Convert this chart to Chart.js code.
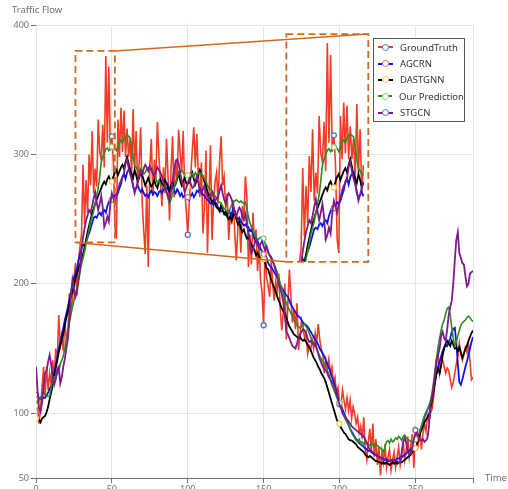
<!DOCTYPE html>
<html>
<head>
<meta charset="utf-8">
<script src="https://cdn.jsdelivr.net/npm/chart.js@4.4.0/dist/chart.umd.min.js"></script>
<style>
  html, body { margin: 0; padding: 0; background: #fff; }
  #wrap { position: relative; width: 508px; height: 489px; }
  #legend {
    position: absolute; left: 373px; top: 38px; width: 92px; height: 84px;
    box-sizing: border-box; border: 1px solid #555; background: #fff;
    font: 9.5px 'Noto Sans', sans-serif; color: #333;
  }
  .item { display: flex; align-items: center; height: 16.4px; white-space: nowrap; }
  .icon { position: relative; width: 15px; height: 10px; margin-left: 4px; margin-right: 7px; }
  .icon .ln { position: absolute; left: 0; right: 0; top: 4px; height: 2px; }
  .icon .dot {
    position: absolute; left: 4px; top: 1.5px; width: 5px; height: 5px;
    border: 1.5px solid; border-radius: 50%; background: #fff;
  }
</style>
</head>
<body>
<div id="wrap">
  <canvas id="myChart" width="508" height="489"></canvas>
  <div id="legend"></div>
</div>
<script>
const seriesNames = ['GroundTruth', 'AGCRN', 'DASTGNN', 'Our Prediction', 'STGCN'];

const xTicks = [0, 50, 100, 150, 200, 250, 288];
const yTicks = [50, 100, 200, 300, 400];

// values, one per time step (0..288)
const groundTruth = [
  114, 106, 92, 104, 120, 136, 113, 136, 118, 131,
  122, 141, 127, 150, 139, 176, 153, 160, 148, 171,
  158, 162, 193, 180, 186, 202, 216, 191, 218, 229,
  238, 292, 246, 280, 255, 300, 276, 318, 270, 289,
  275, 327, 302, 296, 323, 290, 376, 309, 368, 303,
  314, 294, 244, 235, 327, 298, 336, 302, 334, 298,
  320, 298, 312, 285, 335, 289, 318, 276, 294, 321,
  262, 241, 223, 276, 213, 290, 312, 268, 296, 281,
  325, 300, 278, 260, 290, 270, 312, 284, 249, 288,
  314, 267, 296, 280, 319, 301, 286, 318, 272, 257,
  238, 262, 284, 303, 321, 290, 316, 283, 267, 294,
  239, 258, 303, 224, 268, 307, 234, 262, 279, 286,
  262, 295, 314, 276, 283, 258, 270, 234, 255, 246,
  265, 239, 218, 242, 252, 224, 260, 248, 283, 267,
  213, 238, 215, 255, 232, 242, 210, 229, 203, 193,
  168, 229, 205, 198, 190, 218, 200, 187, 202, 195,
  208, 180, 164, 178, 200, 157, 185, 211, 190, 170,
  180, 165, 185, 149, 160, 172, 167, 158, 162, 146,
  152, 149, 157, 150, 162, 155, 169, 157, 150, 146,
  131, 141, 135, 142, 131, 136, 124, 128, 115, 120,
  107, 106, 118, 110, 103, 112, 102, 110, 96, 105,
  100, 92, 97, 85, 90, 80, 97, 72, 64, 78,
  88, 70, 92, 66, 80, 60, 74, 52, 70, 62,
  76, 58, 66, 72, 56, 64, 70, 58, 66, 74,
  60, 68, 78, 64, 72, 82, 66, 75, 84, 58,
  87, 82, 76, 88, 72, 84, 92, 86, 98, 94,
  100, 103, 112, 124, 138, 146, 131, 139, 141, 136,
  131, 135, 133, 126, 120, 124, 131, 138, 144, 154,
  146, 141, 146, 151, 147, 154, 140, 126, 128
];

const agcrn = [
  111, 113, 112, 111, 111, 112, 112, 114, 116, 119,
  121, 126, 132, 137, 143, 150, 155, 161, 166, 172,
  177, 182, 188, 193, 200, 205, 208, 212, 218, 223,
  227, 231, 229, 233, 236, 239, 243, 247, 251, 252,
  251, 254, 255, 253, 256, 257, 255, 260, 263, 266,
  265, 267, 269, 268, 270, 274, 277, 283, 285, 281,
  286, 288, 289, 283, 275, 272, 274, 276, 273, 271,
  273, 270, 268, 269, 267, 270, 272, 269, 271, 270,
  268, 271, 272, 270, 273, 275, 272, 276, 274, 273,
  275, 272, 270, 273, 271, 268, 270, 267, 268, 266,
  267, 265, 268, 270, 267, 269, 272, 271, 274, 272,
  269, 268, 266, 265, 264, 262, 263, 261, 263, 262,
  259, 258, 256, 257, 254, 253, 253, 256, 255, 253,
  259, 256, 252, 250, 251, 248, 247, 245, 246, 244,
  244, 241, 242, 239, 235, 236, 233, 230, 227, 225,
  223, 222, 220, 216, 214, 213, 211, 209, 207, 205,
  202, 199, 197, 195, 193, 191, 190, 187, 184, 182,
  180, 178, 176, 175, 174, 172, 170, 169, 168, 167,
  165, 163, 161, 159, 157, 155, 153, 150, 148, 146,
  144, 141, 138, 135, 132, 128, 125, 121, 117, 113,
  108, 106, 103, 100, 97, 94, 91, 88, 86, 84,
  82, 80, 79, 77, 76, 75, 74, 73, 72, 71,
  71, 70, 69, 68, 68, 67, 66, 66, 65, 65,
  64, 64, 63, 63, 64, 63, 64, 64, 65, 65,
  66, 66, 67, 68, 69, 70, 71, 72, 73, 74,
  76, 78, 81, 85, 89, 93, 97, 100, 103, 105,
  108, 113, 119, 126, 131, 136, 140, 144, 148, 151,
  153, 152, 155, 158, 163, 165, 166, 155, 138, 124,
  122, 126, 131, 136, 140, 145, 150, 155, 159
];

const dastgnn = [
  96, 95, 95, 93, 96, 97, 98, 101, 105, 111,
  116, 122, 129, 135, 141, 147, 152, 157, 162, 168,
  174, 179, 185, 190, 194, 198, 204, 208, 212, 215,
  218, 223, 228, 234, 240, 245, 250, 255, 258, 262,
  265, 268, 271, 274, 277, 279, 277, 281, 283, 280,
  279, 283, 286, 288, 284, 287, 290, 292, 289, 294,
  298, 293, 287, 285, 282, 288, 284, 279, 282, 286,
  284, 280, 276, 279, 282, 278, 275, 277, 280, 276,
  274, 279, 281, 277, 276, 280, 278, 274, 271, 276,
  279, 275, 277, 281, 285, 280, 276, 279, 282, 278,
  275, 279, 283, 286, 281, 277, 280, 284, 288, 285,
  283, 279, 276, 271, 268, 266, 263, 265, 262, 259,
  258, 256, 261, 257, 254, 256, 252, 250, 252, 249,
  253, 255, 250, 246, 248, 243, 240, 242, 238, 235,
  236, 233, 230, 228, 226, 222, 224, 221, 220, 219,
  219, 216, 212, 211, 207, 203, 200, 197, 194, 190,
  187, 184, 181, 179, 177, 174, 170, 167, 165, 163,
  161, 160, 159, 158, 159, 157, 156, 157, 155, 153,
  151, 149, 146, 143, 141, 139, 136, 134, 131, 129,
  127, 124, 120, 116, 112, 108, 104, 100, 96, 93,
  92, 89, 87, 85, 84, 82, 80, 79, 79, 78,
  77, 76, 74, 73, 72, 71, 70, 68, 67, 66,
  67, 66, 65, 64, 63, 63, 62, 62, 61, 62,
  61, 62, 61, 60, 61, 62, 61, 62, 61, 62,
  62, 62, 63, 64, 65, 66, 67, 68, 70, 71,
  73, 76, 80, 84, 87, 90, 93, 95, 97, 99,
  104, 110, 117, 124, 131, 134, 131, 137, 145, 150,
  154, 156, 154, 152, 156, 153, 150, 151, 148, 151,
  147, 143, 146, 150, 152, 156, 159, 162, 164
];

const ourPrediction = [
  106, 108, 110, 112, 114, 116, 115, 114, 113, 113,
  120, 126, 128, 129, 130, 133, 138, 141, 144, 150,
  157, 163, 170, 176, 182, 187, 192, 197, 203, 210,
  215, 220, 225, 231, 236, 242, 248, 252, 256, 262,
  268, 274, 283, 294, 298, 301, 304, 305, 303, 305,
  306, 307, 305, 303, 306, 309, 311, 309, 312, 314,
  315, 314, 313, 306, 298, 292, 290, 288, 287, 289,
  287, 285, 286, 289, 290, 288, 289, 287, 284, 281,
  278, 280, 277, 276, 274, 275, 271, 266, 262, 265,
  270, 275, 278, 282, 285, 287, 288, 286, 284, 283,
  284, 283, 284, 285, 283, 286, 284, 285, 286, 285,
  283, 281, 279, 276, 274, 273, 272, 270, 268, 266,
  264, 263, 262, 260, 258, 257, 256, 255, 258, 261,
  263, 264, 265, 264, 263, 264, 263, 262, 263, 258,
  252, 247, 244, 241, 238, 236, 234, 235, 236, 235,
  235, 231, 227, 224, 222, 219, 217, 215, 212, 209,
  205, 200, 196, 192, 188, 185, 182, 180, 177, 175,
  172, 170, 168, 167, 166, 167, 168, 169, 167, 165,
  162, 159, 156, 154, 152, 150, 147, 144, 142, 140,
  139, 136, 133, 130, 126, 122, 119, 116, 113, 110,
  108, 105, 101, 98, 95, 93, 91, 88, 85, 83,
  81, 79, 78, 80, 77, 78, 76, 78, 77, 76,
  75, 77, 76, 74, 76, 75, 74, 73, 72, 70,
  74, 78, 79, 77, 80, 78, 79, 81, 80, 82,
  81, 79, 82, 83, 81, 80, 79, 78, 79, 81,
  80, 82, 83, 86, 90, 94, 98, 101, 103, 106,
  110, 116, 124, 134, 143, 151, 158, 164, 169, 172,
  177, 181, 182, 176, 166, 158, 152, 155, 160, 164,
  168, 170, 171, 172, 174, 175, 174, 172, 171
];

const stgcn = [
  136, 118, 104, 101, 108, 122, 131, 133, 140, 145,
  138, 128, 122, 126, 134, 136, 123, 128, 136, 142,
  150, 157, 172, 190, 203, 196, 190, 194, 202, 210,
  228, 236, 243, 249, 253, 257, 255, 260, 266, 271,
  263, 257, 262, 268, 259, 244, 247, 252, 248, 262,
  270, 266, 262, 268, 272, 277, 280, 282, 285, 293,
  296, 290, 285, 281, 276, 270, 274, 279, 283, 287,
  285, 289, 292, 290, 287, 291, 288, 285, 283, 287,
  290, 288, 286, 283, 279, 275, 271, 268, 265, 272,
  280, 288, 294, 296, 293, 286, 280, 276, 271, 274,
  278, 281, 277, 274, 275, 279, 283, 278, 273, 270,
  273, 276, 271, 268, 266, 269, 271, 267, 264, 266,
  268, 272, 276, 270, 265, 262, 267, 270, 268, 265,
  260, 255, 252, 256, 259, 257, 252, 250, 254, 246,
  240, 232, 224, 226, 231, 234, 230, 228, 231, 233,
  229, 226, 229, 225, 222, 221, 218, 214, 210, 205,
  200, 196, 192, 186, 175, 163, 161, 158, 155, 152,
  151, 150, 154, 158, 161, 163, 165, 164, 162, 158,
  155, 156, 154, 153, 154, 150, 146, 142, 139, 136,
  134, 133, 131, 128, 126, 124, 122, 119, 115, 111,
  107, 104, 100, 98, 97, 95, 94, 92, 90, 89,
  88, 87, 86, 85, 84, 83, 82, 80, 77, 74,
  72, 71, 70, 69, 68, 67, 66, 66, 65, 64,
  64, 65, 64, 63, 64, 64, 63, 64, 63, 62,
  62, 70, 78, 81, 77, 70, 68, 69, 74, 80,
  84, 85, 82, 79, 79, 80, 78, 79, 81, 90,
  107, 112, 120, 130, 141, 145, 150, 160, 163, 158,
  156, 165, 176, 182, 187, 200, 218, 234, 240, 224,
  220, 216, 215, 206, 198, 200, 208, 209, 210
];

const allSeries = [groundTruth, agcrn, dastgnn, ourPrediction, stgcn];

// styles
const lineColors = ['#f23c28', '#0a14f0', '#000000', '#2e8b1e', '#7d1a8c'];
const markerColors = ['#5470c6', '#ee6666', '#fac858', '#91cc75', '#5470c6'];
const lineWidths = [1.6, 1.8, 1.8, 1.6, 1.8];
const showMarkers = [true, true, true, true, false];
const markerEvery = 50;

// zoom window: small box (source) and big box (where it is drawn), in data units
const sourceBox = { x: [26, 52], y: [232, 380] };
const targetBox = { x: [165, 219], y: [217, 393] };
const insetView = { x: [21, 71], y: [229, 382] };
const insetSlice = [28, 68];
const boxColor = '#d2691e';
const axisFont = { family: "'Noto Sans', sans-serif", size: 9 };

function toPoints(arr) {
    return arr.map((v, i) => ({ x: i, y: v }));
}

// hidden axis range so that insetView lands exactly on targetBox
function insetRange(view, box, lo, hi) {
    const k = (view[1] - view[0]) / (box[1] - box[0]);
    return { min: view[0] + (lo - box[0]) * k, max: view[0] + (hi - box[0]) * k };
}

function makeDataset(i, inset) {
    let data = toPoints(allSeries[i]);
    if (inset) data = data.filter(p => p.x >= insetSlice[0] && p.x <= insetSlice[1]);
    return {
        label: seriesNames[i],
        data: data,
        borderColor: lineColors[i],
        borderWidth: lineWidths[i],
        backgroundColor: '#fff',
        pointBackgroundColor: '#fff',
        pointBorderColor: markerColors[i],
        pointBorderWidth: 1.3,
        pointRadius: ctx => (showMarkers[i] && ctx.raw && ctx.raw.x % markerEvery === 0) ? 2.5 : 0,
        tension: 0,
        fill: false,
        order: 10 - i,
        xAxisID: inset ? 'x2' : 'x',
        yAxisID: inset ? 'y2' : 'y',
        isInset: inset
    };
}

const datasets = [];
for (let i = 0; i < allSeries.length; i++) datasets.push(makeDataset(i, false));
for (let i = 0; i < allSeries.length; i++) datasets.push(makeDataset(i, true));

function boxPixels(chart, box) {
    const xs = chart.scales.x, ys = chart.scales.y;
    return {
        l: xs.getPixelForValue(box.x[0]), r: xs.getPixelForValue(box.x[1]),
        t: ys.getPixelForValue(box.y[1]), b: ys.getPixelForValue(box.y[0])
    };
}

const insetPlugin = {
    id: 'inset',
    beforeDatasetDraw(chart, args) {
        if (!args.meta._dataset.isInset) return;
        const p = boxPixels(chart, targetBox);
        chart.ctx.save();
        chart.ctx.beginPath();
        chart.ctx.rect(p.l, p.t, p.r - p.l, p.b - p.t);
        chart.ctx.clip();
    },
    afterDatasetDraw(chart, args) {
        if (!args.meta._dataset.isInset) return;
        chart.ctx.restore();
    },
    afterDatasetsDraw(chart) {
        const ctx = chart.ctx;
        const s = boxPixels(chart, sourceBox);
        const t = boxPixels(chart, targetBox);
        ctx.save();
        ctx.strokeStyle = boxColor;
        // connector lines
        ctx.lineWidth = 1.5;
        ctx.setLineDash([]);
        ctx.beginPath();
        ctx.moveTo(s.r, s.t); ctx.lineTo(t.r, t.t);
        ctx.moveTo(s.l, s.b); ctx.lineTo(t.l, t.b);
        ctx.stroke();
        // dashed boxes
        ctx.lineWidth = 1.8;
        ctx.setLineDash([7, 4]);
        ctx.strokeRect(s.l, s.t, s.r - s.l, s.b - s.t);
        ctx.strokeRect(t.l, t.t, t.r - t.l, t.b - t.t);
        ctx.restore();
    }
};

const titlePlugin = {
    id: 'axisTitles',
    afterDraw(chart) {
        const ctx = chart.ctx, a = chart.chartArea;
        ctx.save();
        ctx.fillStyle = '#6e7079';
        ctx.font = "9.5px 'Noto Sans', sans-serif";
        ctx.textAlign = 'left';
        ctx.textBaseline = 'middle';
        ctx.fillText('Traffic Flow', a.left - 24, a.top - 15);
        ctx.fillText('Time', a.right + 12, a.bottom);
        ctx.restore();
    }
};

const xr = insetRange(insetView.x, targetBox.x, xTicks[0], xTicks[xTicks.length - 1]);
const yr = insetRange(insetView.y, targetBox.y, yTicks[0], yTicks[yTicks.length - 1]);

const myChart = new Chart(document.getElementById('myChart'), {
    type: 'line',
    data: { datasets: datasets },
    options: {
        responsive: false,
        animation: false,
        events: [],
        layout: { padding: { top: 25, right: 35, left: 0, bottom: 0 } },
        plugins: { legend: { display: false }, tooltip: { enabled: false } },
        scales: {
            x: {
                type: 'linear',
                min: xTicks[0],
                max: xTicks[xTicks.length - 1],
                afterBuildTicks: s => { s.ticks = xTicks.map(v => ({ value: v })); },
                afterFit: s => { s.height = 11; },
                grid: { color: '#e0e6f1', tickColor: '#6e7079', tickLength: 5 },
                border: { color: '#6e7079' },
                ticks: {
                    color: '#6e7079', font: axisFont, padding: 1,
                    maxRotation: 0, autoSkip: false,
                    callback: v => (v === xTicks[xTicks.length - 1] ? '' : v)
                }
            },
            y: {
                type: 'linear',
                min: yTicks[0],
                max: yTicks[yTicks.length - 1],
                afterBuildTicks: s => { s.ticks = yTicks.map(v => ({ value: v })); },
                afterFit: s => { s.width = 36; },
                grid: {
                    color: c => (c.tick && c.tick.value === yTicks[0] ? 'rgba(0,0,0,0)' : '#e0e6f1'),
                    tickColor: '#6e7079',
                    tickLength: 5
                },
                border: { display: false },
                ticks: { color: '#6e7079', font: axisFont, padding: 2 }
            },
            x2: { type: 'linear', display: false, min: xr.min, max: xr.max },
            y2: { type: 'linear', display: false, min: yr.min, max: yr.max }
        }
    },
    plugins: [insetPlugin, titlePlugin]
});

// html legend built from the series lists
const legend = document.getElementById('legend');
seriesNames.forEach((name, i) => {
    const item = document.createElement('div');
    item.className = 'item';
    item.innerHTML = '<span class="icon"><span class="ln" style="background:' + lineColors[i] +
        '"></span><span class="dot" style="border-color:' + markerColors[i] + '"></span></span>';
    item.appendChild(document.createTextNode(name));
    legend.appendChild(item);
});
</script>
</body>
</html>
